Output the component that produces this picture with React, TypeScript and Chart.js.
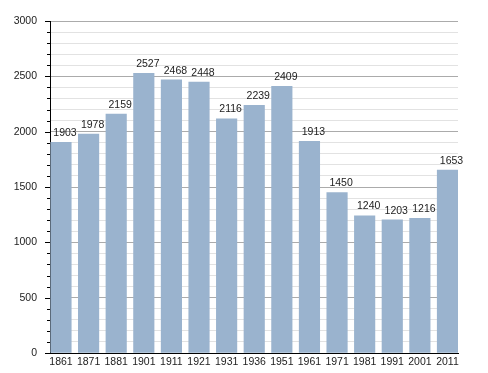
import React, { useEffect, useRef } from "react";
import { Chart, registerables } from "chart.js";

Chart.register(...registerables);

const years = ["1861", "1871", "1881", "1901", "1911", "1921", "1931", "1936", "1951", "1961", "1971", "1981", "1991", "2001", "2011"];
const population = [1903, 1978, 2159, 2527, 2468, 2448, 2116, 2239, 2409, 1913, 1450, 1240, 1203, 1216, 1653];
const yMax = 3000;
const yMinorStep = 100;
const yMajorStep = 500;

const FONT = '"Liberation Sans", Arial, sans-serif';
const FONT_SIZE = 10.5;

const yTickMarks = {
  id: "yTickMarks",
  afterDraw(chart: any) {
    const ctx = chart.ctx;
    const ys = chart.scales.y;
    const left = chart.chartArea.left;
    ctx.save();
    ctx.strokeStyle = "#000";
    ctx.lineWidth = 1;
    ys.ticks.forEach((t: any) => {
      const y = Math.round(ys.getPixelForValue(t.value)) + 0.5;
      const len = t.value % yMajorStep === 0 ? 5 : 3;
      ctx.beginPath();
      ctx.moveTo(left - len, y);
      ctx.lineTo(left, y);
      ctx.stroke();
    });
    ctx.restore();
  },
};

const valueLabels = {
  id: "valueLabels",
  afterDatasetsDraw(chart: any) {
    const ctx = chart.ctx;
    const meta = chart.getDatasetMeta(0);
    ctx.save();
    ctx.font = `${FONT_SIZE}px ${FONT}`;
    ctx.fillStyle = "#222";
    ctx.textAlign = "center";
    ctx.textBaseline = "bottom";
    meta.data.forEach((el: any, i: number) => {
      ctx.fillText(String(population[i]), el.x + 4, el.y - 4);
    });
    ctx.restore();
  },
};

export default function App() {
  const ref = useRef<HTMLCanvasElement>(null);
  useEffect(() => {
    if (!ref.current) return;
    const chart = new Chart(ref.current, {
      type: "bar",
      data: {
        datasets: [
          {
            data: population.map((v, i) => ({ x: i, y: v })),
            backgroundColor: "#9ab3ce",
            borderWidth: 0,
            barThickness: 20.5,
          },
        ],
      },
      options: {
        responsive: false,
        animation: false,
        layout: { padding: { left: 0, top: 21, right: 30, bottom: 0 } },
        plugins: { legend: { display: false }, tooltip: { enabled: false } },
        scales: {
          x: {
            type: "linear",
            offset: false,
            min: -0.398,
            max: 14.381,
            afterBuildTicks: (scale: any) => {
              scale.ticks = years.map((_, i) => ({ value: i }));
            },
            afterFit: (scale: any) => {
              scale.height = 20;
            },
            grid: { display: false, drawTicks: false, offset: false },
            border: { display: true, color: "#000", width: 1 },
            ticks: {
              padding: 3,
              autoSkip: false,
              maxRotation: 0,
              color: "#222",
              font: { family: FONT, size: FONT_SIZE },
              callback: (v: any) => years[v] ?? "",
            },
          },
          y: {
            min: 0,
            max: yMax,
            afterFit: (scale: any) => {
              scale.width = 50;
            },
            grid: {
              drawTicks: false,
              color: (c: any) => (c.tick && c.tick.value % yMajorStep === 0 ? "#ababab" : "#e2e2e2"),
            },
            border: { display: true, color: "#000", width: 1 },
            ticks: {
              stepSize: yMinorStep,
              padding: 13,
              autoSkip: false,
              color: "#222",
              font: { family: FONT, size: FONT_SIZE },
              callback: (v: any) => (v % yMajorStep === 0 ? String(v) : ""),
            },
          },
        },
      },
      plugins: [yTickMarks, valueLabels],
    });
    return () => chart.destroy();
  }, []);
  return (
    <canvas
      ref={ref}
      width={488}
      height={373}
      style={{ position: "absolute", left: 0, top: 0, width: 488, height: 373, background: "#fff" }}
    />
  );
}
